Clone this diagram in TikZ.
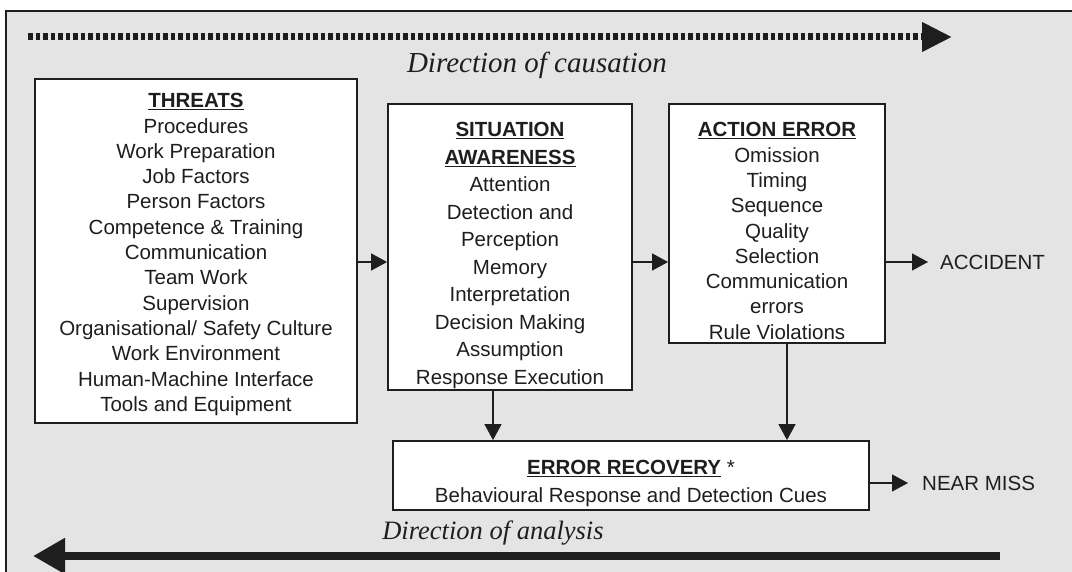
\documentclass[tikz,border=0pt]{standalone}
\usepackage{fontspec}
\setmainfont{Liberation Sans}
\newfontfamily\serifit{Liberation Serif}
\usetikzlibrary{arrows.meta}
\definecolor{bggrey}{RGB}{228,228,228}
\definecolor{ink}{RGB}{30,30,30}
\tikzset{
  box/.style={draw=ink, line width=1.8pt, fill=white, inner sep=0pt},
  boxtext/.style={align=center, text=ink, inner sep=0pt, font=\fontsize{20.5}{25.3}\selectfont},
  link/.style={draw=ink, line width=1.4pt, -{Triangle[length=16pt,width=17pt]}},
  outtext/.style={text=ink, font=\fontsize{20.5}{22}\selectfont, anchor=west, inner sep=0pt},
  dirtext/.style={text=ink, font=\fontsize{29}{30}\serifit\itshape, inner sep=0pt},
}
\newcommand{\hd}[1]{\underline{\textbf{#1}}}
\begin{document}
\begin{tikzpicture}[x=1pt,y=-1pt]
\useasboundingbox (0,0) rectangle (1072,572);
\fill[bggrey] (6,11) rectangle (1080,580);
\draw[ink, line width=2.5pt] (6,580) -- (6,11) -- (1080,11);

% direction of causation
\coordinate (cs) at (28,37);
\coordinate (ce) at (952,37);
\draw[ink, line width=7pt, dash pattern=on 4.5pt off 3pt, -{Triangle[length=30pt,width=28pt]}] (cs) -- (ce);
\node[dirtext] (causation) at (537,65) {Direction of causation};

% boxes
\node[box, minimum width=322pt, minimum height=344pt] (threats) at (196,251) {};
\node[boxtext] (threatstext) at (196,254.5) {%
\hd{THREATS}\\Procedures\\Work Preparation\\Job Factors\\Person Factors\\Competence \& Training\\Communication\\Team Work\\Supervision\\Organisational/ Safety Culture\\Work Environment\\Human-Machine Interface\\Tools and Equipment};

\node[box, minimum width=244pt, minimum height=286pt] (sa) at (510,247) {};
\node[boxtext, font=\fontsize{20.5}{27.5}\selectfont] (satext) at (510,255.5) {%
\hd{SITUATION}\\\hd{AWARENESS}\\Attention\\Detection and\\Perception\\Memory\\Interpretation\\Decision Making\\Assumption\\Response Execution};

\node[box, minimum width=216pt, minimum height=239pt] (ae) at (777,223.5) {};
\node[boxtext] (aetext) at (777,231) {%
\hd{ACTION ERROR}\\Omission\\Timing\\Sequence\\Quality\\Selection\\Communication\\errors\\Rule Violations};

\node[box, minimum width=476pt, minimum height=69pt] (er) at (631,475.5) {};
\node[boxtext, font=\fontsize{20.5}{28}\selectfont] (ertext) at (631,483.5) {%
\hd{ERROR RECOVERY} *\\Behavioural Response and Detection Cues};

\node[outtext] (accident) at (940,262) {ACCIDENT};
\node[outtext] (nearmiss) at (922,483) {NEAR MISS};

% connectors
\draw[link] (threats.east |- 0,262) -- (sa.west |- 0,262);
\draw[link] (sa.east |- 0,262) -- (ae.west |- 0,262);
\draw[link] (ae.east |- 0,262) -- ([xshift=-12pt]accident.west);
\draw[link] (sa.south -| 493,0) -- (er.north -| 493,0);
\draw[link] (ae.south -| 787,0) -- (er.north -| 787,0);
\draw[link] (er.east |- 0,483) -- ([xshift=-14pt]nearmiss.west);

% direction of analysis
\node[dirtext, font=\fontsize{26.5}{28}\serifit\itshape] (analysis) at (493,533) {Direction of analysis};
\coordinate (as) at (1000,556);
\coordinate (ae2) at (33,556);
\draw[ink, line width=8pt, -{Triangle[length=32pt,width=34pt]}] (as) -- (ae2);
\end{tikzpicture}
\end{document}
